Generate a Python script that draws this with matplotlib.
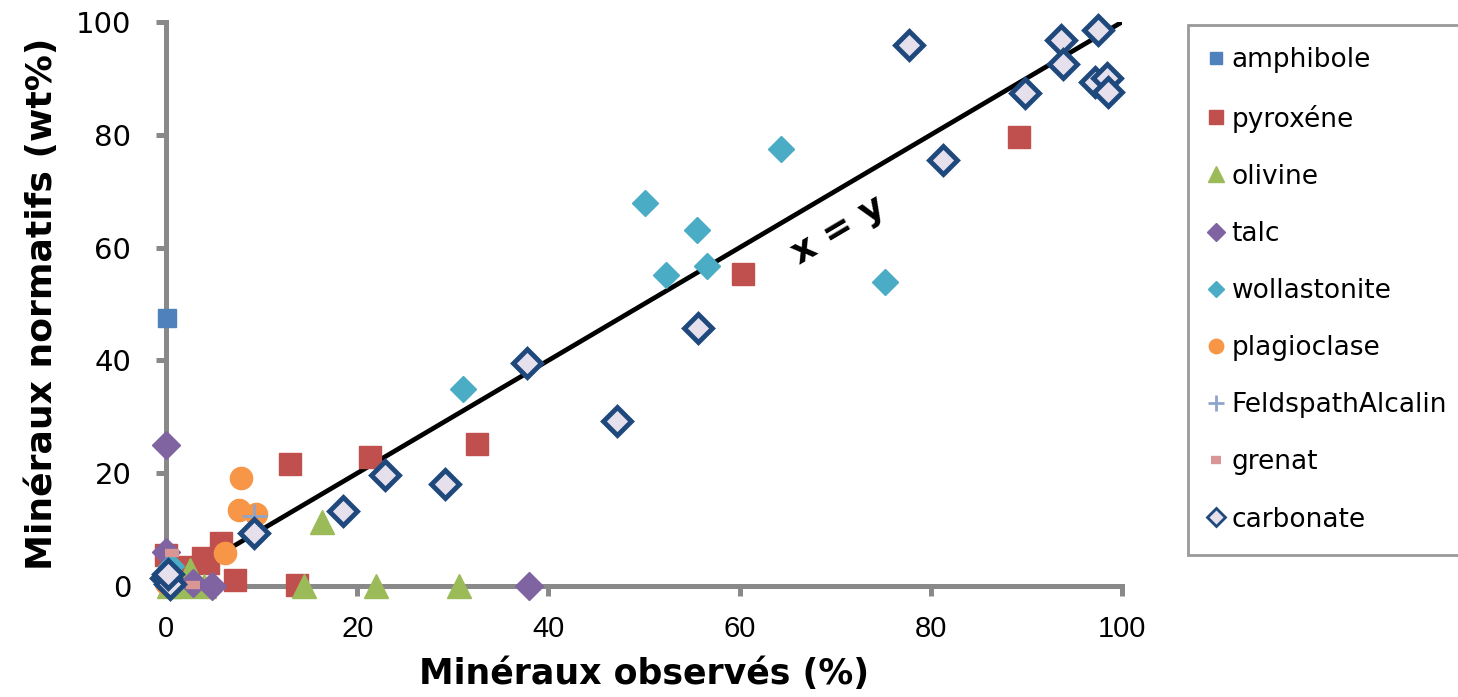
import matplotlib.pyplot as plt

# ===== DATA =====
amph_x = [0.1, 0.2]
amph_y = [47.5, 0.8]

pyr_x = [13.0, 21.3, 32.5, 60.4, 89.2, 13.7, 7.2, 5.8, 4.4, 3.9, 0.0, 1.8]
pyr_y = [21.6, 22.9, 25.2, 55.3, 79.6, 0.2, 1.0, 7.6, 4.0, 5.0, 5.5, 3.4]

oli_x = [16.3, 14.4, 22.0, 30.6, 2.5, 4.0, 1.5, 0.3]
oli_y = [11.3, 0.0, 0.0, 0.0, 2.8, 0.0, 0.0, 0.0]

talc_x = [0.0, 38.0, 4.8, 0.0, 2.8]
talc_y = [25.0, 0.0, 0.0, 6.0, 0.5]

woll_x = [50.1, 52.3, 55.5, 56.6, 64.3, 75.2, 31.1, 0.5]
woll_y = [67.9, 55.1, 63.1, 56.7, 77.5, 53.9, 34.9, 3.5]

plag_x = [7.8, 7.6, 9.4, 6.2, 0.0]
plag_y = [19.1, 13.5, 12.8, 5.9, 0.5]

feld_x = [9.2, 0.3]
feld_y = [12.4, 0.5]

gren_x = [0.6, 2.8]
gren_y = [5.8, 0.2]

carb_x = [97.5, 93.6, 93.8, 97.2, 98.4, 98.5, 89.9, 77.7, 81.3, 55.6, 37.8, 47.2,
          29.2, 22.9, 18.5, 9.2, 0.0, 0.4, 0.2]
carb_y = [98.6, 96.8, 92.6, 89.4, 90.1, 87.6, 87.4, 95.9, 75.5, 45.7, 39.5, 29.3,
          18.1, 19.7, 13.3, 9.4, 1.4, 0.4, 2.2]

line_x = [6.8, 100]
line_y = [6.8, 100]

# ===== PLOT =====
fig = plt.figure(figsize=(14.58, 6.97), dpi=100)
ax = fig.add_axes([166 / 1458, 1 - 586 / 697, (1122 - 166) / 1458, (586 - 22) / 697])

ax.plot(line_x, line_y, color="black", lw=3.4, zorder=2)

ax.plot(amph_x, amph_y, "s", ms=13, color="#4F81BD", mec="#4F81BD", label="amphibole", zorder=3, clip_on=False)
ax.plot(pyr_x, pyr_y, "s", ms=16, color="#C0504D", mec="#C0504D", label="pyroxéne", zorder=3, clip_on=False)
ax.plot(oli_x, oli_y, "^", ms=17, color="#9BBB59", mec="#9BBB59", label="olivine", zorder=3, clip_on=False)
ax.plot(talc_x, talc_y, "D", ms=14, color="#8064A2", mec="#8064A2", label="talc", zorder=3, clip_on=False)
ax.plot(woll_x, woll_y, "D", ms=13, color="#4BACC6", mec="#4BACC6", label="wollastonite", zorder=3, clip_on=False)
ax.plot(plag_x, plag_y, "o", ms=16, color="#F79646", mec="#F79646", label="plagioclase", zorder=3, clip_on=False)
ax.plot(feld_x, feld_y, "+", ms=18, mew=2, color="#8EA5CB", label="FeldspathAlcalin", zorder=3, clip_on=False)
ax.plot(gren_x, gren_y, "_", ms=10, mew=6, color="#D99694", label="grenat", zorder=3, clip_on=False)
ax.plot(carb_x, carb_y, "D", ms=14, mew=3.5, color="#E6E0EC", mec="#1F497D", label="carbonate", zorder=4, clip_on=False)

ax.text(70.3, 63, "x = y", fontsize=26, fontweight="bold", rotation=30.6,
        ha="center", va="center")

ax.set_xlim(0, 100)
ax.set_ylim(0, 100)
ax.set_xticks([0, 20, 40, 60, 80, 100])
ax.set_yticks([0, 20, 40, 60, 80, 100])

for s in ["top", "right"]:
    ax.spines[s].set_visible(False)
for s in ["left", "bottom"]:
    ax.spines[s].set_color("#898989")
    ax.spines[s].set_linewidth(3.6)
ax.tick_params(axis="both", length=7, width=3.6, color="#898989")
ax.tick_params(axis="x", labelsize=21, pad=14)
ax.tick_params(axis="y", labelsize=21, pad=18)
for lab in ax.get_xticklabels():
    lab.set_family(["Liberation Sans", "DejaVu Sans"])

ax.set_xlabel("Minéraux observés (%)", fontsize=25, fontweight="bold", labelpad=10)
ax.set_ylabel("Minéraux normatifs (wt%)", fontsize=26, fontweight="bold", labelpad=12)

leg = fig.legend(loc="upper left", bbox_to_anchor=(1188 / 1458, 1 - 25 / 697),
                 fontsize=19, markerscale=0.65, frameon=True, fancybox=False,
                 edgecolor="#808080", labelspacing=1.18, handlelength=0.4,
                 handletextpad=0.4, borderpad=0.85, borderaxespad=0)
leg.get_frame().set_linewidth(2)
for h in leg.legend_handles:
    if h.get_label() == "carbonate":
        h.set_markeredgewidth(2)

fig.savefig("out.png", dpi=100)
